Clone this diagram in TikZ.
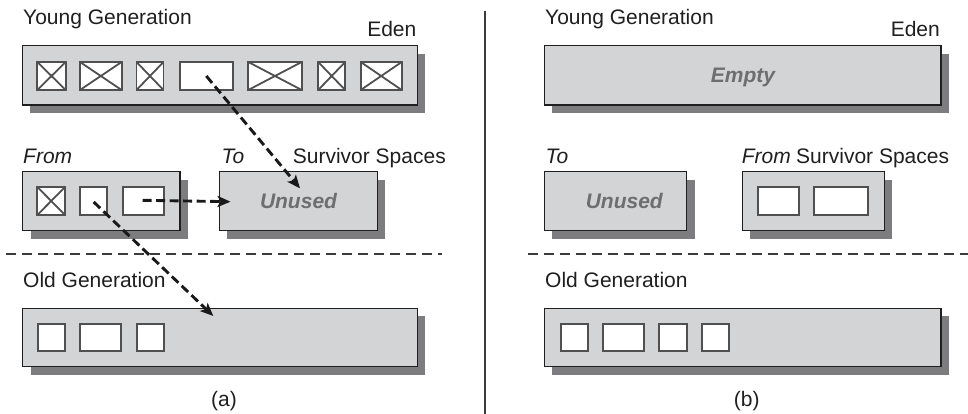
\documentclass[tikz,border=0pt]{standalone}
\usepackage{fontspec}
\setmainfont{Liberation Sans}
\usetikzlibrary{arrows.meta,shadows}
\definecolor{boxgray}{RGB}{211,212,214}
\definecolor{shadowgray}{RGB}{125,125,127}
\definecolor{cellgray}{RGB}{80,80,80}
\definecolor{txtgray}{RGB}{110,110,112}
\definecolor{linegray}{RGB}{60,60,60}
\tikzset{
  membox/.style={draw=black!88, line width=1.4pt, fill=boxgray, inner sep=0pt, outer sep=0pt,
    drop shadow={shadow xshift=8pt, shadow yshift=-8pt, fill=shadowgray, opacity=1}},
  cell/.style={draw=cellgray, line width=1.8pt, fill=white, inner sep=0pt, outer sep=0pt, minimum height=28pt},
  xcell/.style={cell, path picture={
      \draw[cellgray, line width=1.8pt]
        (path picture bounding box.north west) -- (path picture bounding box.south east)
        (path picture bounding box.north east) -- (path picture bounding box.south west);}},
  lbl/.style={inner sep=0pt, anchor=base west, text=black!88, font=\fontsize{21}{25}\selectfont},
  lbli/.style={lbl, font=\fontsize{21}{25}\selectfont\itshape},
  ghost/.style={inner sep=0pt, text=txtgray, font=\fontsize{21}{25}\selectfont\bfseries\itshape},
  sep/.style={linegray, line width=1.2pt, dash pattern=on 10pt off 6pt},
  move/.style={black!90, line width=2.9pt, dash pattern=on 9pt off 4.5pt,
    -{Stealth[length=13pt, width=11pt, inset=3pt]}},
}
\begin{document}
\begin{tikzpicture}[x=1pt,y=-1pt]
\useasboundingbox (0,0) rectangle (968,414);

% ---------------- (a) ----------------
\node[lbl] (ya) at (23,25) {Young Generation};
\node[lbl, anchor=base east] (edena) at (416.5,37) {Eden};
\node[membox, minimum width=395pt, minimum height=59.3pt] (Ea) at (219.8,75.4) {};
\node[xcell, minimum width=28.4pt] (e1) at (51.5,76) {};
\node[xcell, minimum width=41.7pt] (e2) at (100.8,76) {};
\node[xcell, minimum width=27pt] (e3) at (150,76) {};
\node[cell,  minimum width=52.7pt] (e4) at (206.3,76) {};
\node[xcell, minimum width=53.4pt] (e5) at (275,76) {};
\node[xcell, minimum width=27pt] (e6) at (331.7,76) {};
\node[xcell, minimum width=41pt] (e7) at (381.2,76) {};

\node[lbli] (froma) at (23,163.3) {From};
\node[lbli] (toa) at (221.5,163.3) {To};
\node[lbl] (ssa) at (292.7,163.3) {Survivor Spaces};
\node[membox, minimum width=157.3pt, minimum height=59pt] (Fa) at (101.35,201.2) {};
\node[xcell, minimum width=27.7pt] (f1) at (51.2,201) {};
\node[cell,  minimum width=27.3pt] (f2) at (93.7,201) {};
\node[cell,  minimum width=40.7pt] (f3) at (143.7,201) {};
\node[membox, minimum width=158pt, minimum height=59pt] (Ta) at (298.3,201.2) {};
\node[ghost] (unuseda) at (298.5,201) {Unused};

\coordinate (sa1) at (6,254);
\coordinate (sa2) at (441.7,254);
\draw[sep] (sa1) -- (sa2);

\node[lbl] (olda) at (23,287.3) {Old Generation};
\node[membox, minimum width=394.6pt, minimum height=58.4pt] (Oa) at (220,337.5) {};
\node[cell, minimum width=27.3pt, minimum height=27pt] (o1) at (51.3,337.7) {};
\node[cell, minimum width=41pt,   minimum height=27pt] (o2) at (100.5,337.7) {};
\node[cell, minimum width=27.3pt, minimum height=27pt] (o3) at (150.3,337.7) {};

\node[inner sep=0pt, text=black!88, font=\fontsize{21}{25}\selectfont] (capa) at (224,401.5) {(a)};

% arrows
\coordinate (t1) at (300,188.3);
\coordinate (t2) at (230.5,201.7);
\coordinate (t3) at (213.3,316);
\draw[move] (e4.center) -- (t1);
\draw[move] ([xshift=-1pt,yshift=0.7pt]f3.center) -- (t2);
\draw[move] ([yshift=-1pt]f2.center) -- (t3);

% divider
\coordinate (d1) at (485,10.7);
\coordinate (d2) at (485,414);
\draw[linegray, line width=1.6pt] (d1) -- (d2);

% ---------------- (b) ----------------
\node[lbl] (yb) at (545,25) {Young Generation};
\node[lbl, anchor=base east] (edenb) at (940,37) {Eden};
\node[membox, minimum width=396.7pt, minimum height=59.3pt] (Eb) at (742.65,75.4) {};
\node[ghost, anchor=base] (emptyb) at (743,83) {Empty};

\node[lbli] (tob) at (545.5,163.3) {To};
\node[lbli] (fromb) at (741.7,163.3) {From};
\node[lbl] (ssb) at (796,163.3) {Survivor Spaces};
\node[membox, minimum width=142.4pt, minimum height=59pt] (Tb) at (615.5,201.2) {};
\node[ghost] (unusedb) at (624.3,201) {Unused};
\node[membox, minimum width=142pt, minimum height=59pt] (Fb) at (813.3,201.2) {};
\node[cell, minimum width=40.7pt] (g1) at (778.7,201) {};
\node[cell, minimum width=54pt] (g2) at (841.3,201) {};

\coordinate (sb1) at (528.3,254);
\coordinate (sb2) at (968,254);
\draw[sep] (sb1) -- (sb2);

\node[lbl] (oldb) at (545,287.3) {Old Generation};
\node[membox, minimum width=396.7pt, minimum height=58.4pt] (Ob) at (742.65,337.5) {};
\node[cell, minimum width=27.6pt, minimum height=27pt] (p1) at (574.5,337.7) {};
\node[cell, minimum width=40.7pt, minimum height=27pt] (p2) at (623.7,337.7) {};
\node[cell, minimum width=27.4pt, minimum height=27pt] (p3) at (673,337.7) {};
\node[cell, minimum width=27pt,   minimum height=27pt] (p4) at (715.8,337.7) {};

\node[inner sep=0pt, text=black!88, font=\fontsize{21}{25}\selectfont] (capb) at (746.7,401.5) {(b)};
\end{tikzpicture}
\end{document}
